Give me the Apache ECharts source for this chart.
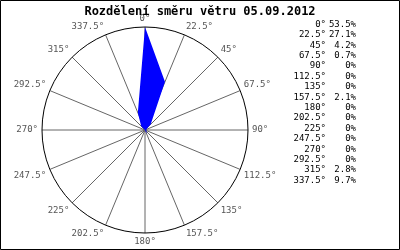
<!DOCTYPE html>
<html><head><meta charset="utf-8">
<script src="https://cdn.jsdelivr.net/npm/echarts@6/dist/echarts.min.js"></script>
<style>html,body{margin:0;padding:0;background:#fff}#c{width:400px;height:250px}</style>
</head><body><div id="c"></div>
<script>
var titleText = 'Rozdělení směru větru 05.09.2012';
var directions = [0, 22.5, 45, 67.5, 90, 112.5, 135, 157.5, 180, 202.5, 225, 247.5, 270, 292.5, 315, 337.5];
var percents = [53.5, 27.1, 4.2, 0.7, 0, 0, 0, 2.1, 0, 0, 0, 0, 0, 0, 2.8, 9.7];

var chart = echarts.init(document.getElementById('c'), null, {renderer: 'canvas'});
var mono = 'DejaVu Sans Mono';
var maxVal = Math.max.apply(null, percents);

var seriesData = directions.map(function (d, i) { return [percents[i], d]; });
seriesData.push([percents[0], 360]);

var graphics = [{
  type: 'rect', shape: {x: 0.5, y: 0.5, width: 399, height: 249},
  style: {fill: 'none', stroke: '#000', lineWidth: 1}, silent: true
}];
directions.forEach(function (d, i) {
  var y = 24.5 + i * 10.4;
  graphics.push({type: 'text', x: 326, y: y, style: {text: d + '°', font: '9px ' + mono, fill: '#000', align: 'right', verticalAlign: 'middle'}});
  graphics.push({type: 'text', x: 356, y: y, style: {text: percents[i] + '%', font: '9px ' + mono, fill: '#000', align: 'right', verticalAlign: 'middle'}});
});

chart.setOption({
  animation: false,
  backgroundColor: '#fff',
  title: {text: titleText, left: 'center', top: 1, textStyle: {fontFamily: mono, fontSize: 12, fontWeight: 'bold', color: '#000'}},
  polar: {center: [145, 130], radius: 103},
  angleAxis: {
    type: 'value', min: 0, max: 360, interval: 22.5, startAngle: 90, clockwise: true,
    axisLine: {show: true, lineStyle: {color: '#000', width: 1}},
    axisTick: {show: false},
    splitLine: {show: true, lineStyle: {color: '#666', width: 1}},
    axisLabel: {margin: 4, color: '#555', fontFamily: mono, fontSize: 9,
      formatter: function (v) { return v >= 360 ? '' : v + '°'; }}
  },
  radiusAxis: {
    type: 'value', min: 0, max: maxVal,
    axisLine: {show: false}, axisTick: {show: false}, axisLabel: {show: false}, splitLine: {show: false}
  },
  series: [{
    type: 'line', coordinateSystem: 'polar', data: seriesData, symbol: 'none',
    lineStyle: {width: 0, color: '#0000ff'}, areaStyle: {color: '#0000ff', opacity: 1}, z: 3
  }],
  graphic: graphics
});
</script></body></html>
